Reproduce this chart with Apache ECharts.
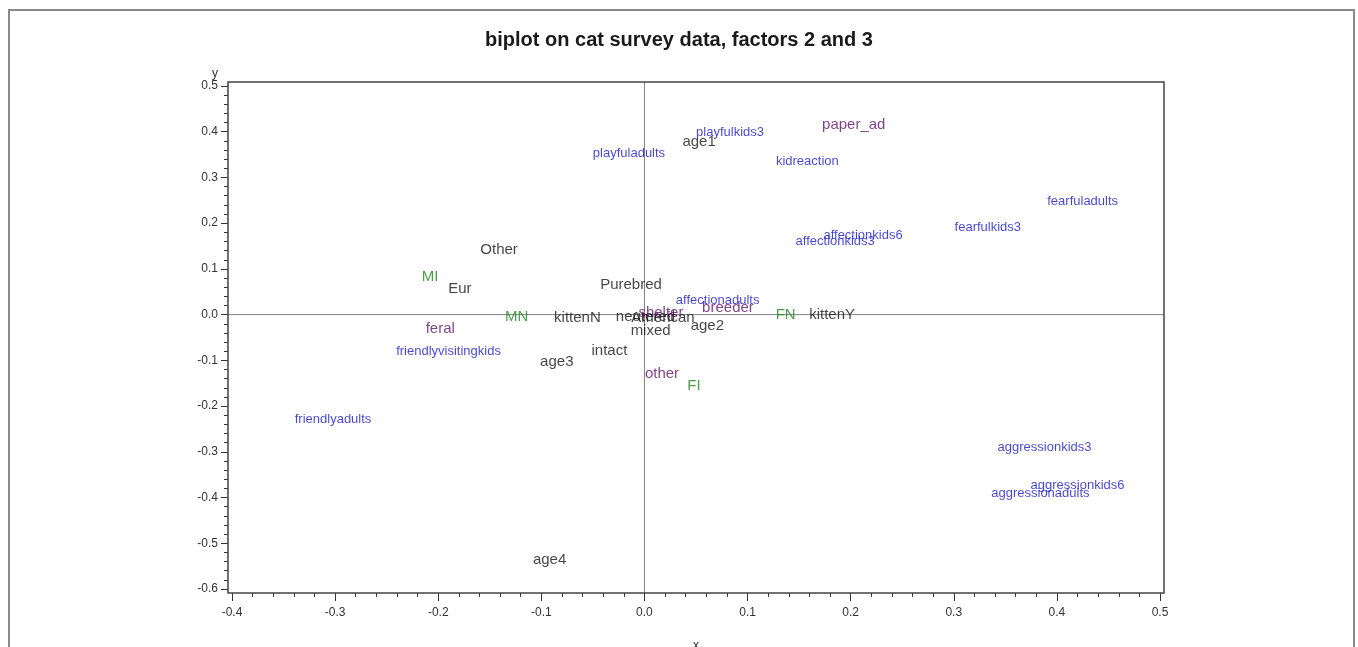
<!DOCTYPE html>
<html>
<head>
<meta charset="utf-8">
<script src="https://cdn.jsdelivr.net/npm/echarts@6/dist/echarts.min.js"></script>
<style>
  html, body { margin: 0; padding: 0; background: #ffffff; }
  #chart { width: 1358px; height: 647px; }
</style>
</head>
<body>
<div id="chart"></div>
<script>
// Cat survey biplot: factor 2 (x) against factor 3 (y), one text label per variable level.

// Owner / cat background levels (black)
const demoNames = ['age1', 'Other', 'Eur', 'Purebred', 'kittenN', 'neutered', 'American', 'mixed', 'age2', 'kittenY', 'intact', 'age3', 'age4'];
const demoX = [0.053, -0.141, -0.179, -0.013, -0.065, 0.001, 0.018, 0.006, 0.061, 0.182, -0.034, -0.085, -0.092];
const demoY = [0.377, 0.141, 0.056, 0.065, -0.008, -0.005, -0.008, -0.036, -0.025, -0.001, -0.080, -0.104, -0.537];

// Sex / neuter status (green)
const sexNames = ['MI', 'MN', 'FN', 'FI'];
const sexX = [-0.208, -0.124, 0.137, 0.048];
const sexY = [0.082, -0.005, -0.001, -0.156];

// Source of the cat (purple)
const sourceNames = ['paper_ad', 'shelter', 'breeder', 'feral', 'other'];
const sourceX = [0.203, 0.016, 0.081, -0.198, 0.017];
const sourceY = [0.415, 0.003, 0.014, -0.032, -0.130];

// Behaviour items (blue)
const behavNames = ['playfulkids3', 'playfuladults', 'kidreaction', 'fearfuladults', 'fearfulkids3', 'affectionkids6', 'affectionkids3', 'affectionadults', 'friendlyvisitingkids', 'friendlyadults', 'aggressionkids3', 'aggressionkids6', 'aggressionadults'];
const behavX = [0.083, -0.015, 0.158, 0.425, 0.333, 0.212, 0.185, 0.071, -0.190, -0.302, 0.388, 0.420, 0.384];
const behavY = [0.399, 0.353, 0.334, 0.248, 0.191, 0.174, 0.161, 0.030, -0.080, -0.229, -0.290, -0.373, -0.391];

// Axis ranges and tick spacing
const xMin = -0.4, xMax = 0.5, xStep = 0.1;
const yMin = -0.6, yMax = 0.5, yStep = 0.1;

function points(names, xs, ys) {
  return names.map((n, i) => ({ name: n, value: [xs[i], ys[i]] }));
}

function labelSeries(name, names, xs, ys, color, size) {
  return {
    name: name,
    type: 'scatter',
    z: 5,
    symbolSize: 0,
    silent: true,
    data: points(names, xs, ys),
    label: {
      show: true,
      position: 'inside',
      formatter: p => p.name,
      color: color,
      fontFamily: 'Liberation Sans, Arial, sans-serif',
      fontSize: size
    },
    labelLayout: { hideOverlap: false }
  };
}

const chart = echarts.init(document.getElementById('chart'), null, { renderer: 'canvas' });

const axisFont = { color: '#333', fontFamily: 'Liberation Sans, Arial, sans-serif', fontSize: 12 };

chart.setOption({
  backgroundColor: '#ffffff',
  animation: false,
  title: {
    text: 'biplot on cat survey data, factors 2 and 3',
    left: 'center',
    top: 25,
    textStyle: { fontFamily: 'Liberation Sans, Arial, sans-serif', fontWeight: 'bold', fontSize: 20, color: '#1a1a1a' }
  },
  grid: { left: 232, right: 198, top: 86, bottom: 58, outerBoundsMode: 'none' },
  xAxis: {
    type: 'value', min: xMin, max: xMax, interval: xStep,
    offset: 4,
    name: 'x', nameLocation: 'middle', nameGap: 47,
    nameTextStyle: axisFont,
    axisLine: { show: false, onZero: false },
    axisTick: { show: true, length: 8, lineStyle: { color: '#333' } },
    minorTick: { show: true, splitNumber: 5, length: 4, lineStyle: { color: '#333' } },
    splitLine: { show: false },
    axisLabel: Object.assign({ margin: 14, formatter: v => v.toFixed(1) }, axisFont)
  },
  yAxis: {
    type: 'value', min: yMin, max: yMax, interval: yStep,
    offset: 4,
    name: 'y', nameLocation: 'end', nameGap: 6,
    nameTextStyle: Object.assign({ align: 'right', padding: [0, 10, 0, 0] }, axisFont),
    axisLine: { show: false, onZero: false },
    axisTick: { show: true, length: 7, lineStyle: { color: '#333' } },
    minorTick: { show: true, splitNumber: 5, length: 4, lineStyle: { color: '#333' } },
    splitLine: { show: false },
    axisLabel: Object.assign({ margin: 10, formatter: v => v.toFixed(1) }, axisFont)
  },
  series: [
    labelSeries('demographics', demoNames, demoX, demoY, '#151515', 15),
    labelSeries('sex', sexNames, sexX, sexY, '#1f861f', 15),
    labelSeries('source', sourceNames, sourceX, sourceY, '#5e1266', 15),
    labelSeries('behaviour', behavNames, behavX, behavY, '#1a18c0', 13)
  ]
});

// Frame around the plotting region and reference lines through the origin
const tl = chart.convertToPixel({ gridIndex: 0 }, [xMin, yMax]);
const br = chart.convertToPixel({ gridIndex: 0 }, [xMax, yMin]);
const o = chart.convertToPixel({ gridIndex: 0 }, [0, 0]);
const pad = 4;
const fx0 = tl[0] - pad, fy0 = tl[1] - pad, fx1 = br[0] + pad, fy1 = br[1] + pad;

chart.setOption({
  graphic: {
    elements: [
      {
        type: 'rect', z: 0, silent: true,
        shape: { x: 9, y: 10, width: 1345, height: 700 },
        style: { fill: null, stroke: '#8a8a8a', lineWidth: 2 }
      },
      {
        type: 'line', z: 1, silent: true,
        shape: { x1: o[0], y1: fy0, x2: o[0], y2: fy1 },
        style: { stroke: '#808080', lineWidth: 1 }
      },
      {
        type: 'line', z: 1, silent: true,
        shape: { x1: fx0, y1: o[1], x2: fx1, y2: o[1] },
        style: { stroke: '#808080', lineWidth: 1 }
      },
      {
        type: 'rect', z: 2, silent: true,
        shape: { x: fx0, y: fy0, width: fx1 - fx0, height: fy1 - fy0 },
        style: { fill: null, stroke: '#444', lineWidth: 1.5 }
      }
    ]
  }
});
</script>
</body>
</html>
